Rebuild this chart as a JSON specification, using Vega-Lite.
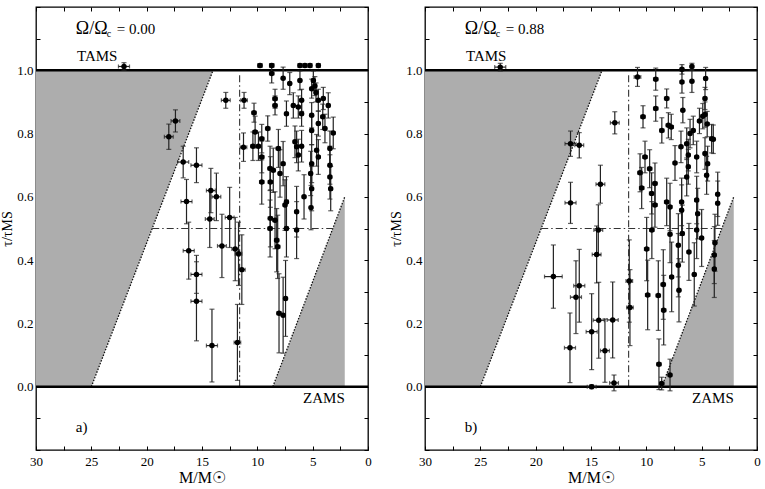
{
  "$schema": "https://vega.github.io/schema/vega-lite/v6.json",
  "autosize": {"type": "pad"},
  "padding": {"left": 0, "top": 0, "right": 3, "bottom": 2},
  "bounds": "flush",
  "spacing": 57,
  "background": "white",
  "config": {"view": {"stroke": "#000", "strokeWidth": 1.3}, "axis": {"grid": false}},
  "datasets": {
    "a": [
      {"m":22.05,"t":1.012,"e":0.012,"me":0.5},
      {"m":18.0,"t":0.79,"e":0.04,"me":0.4},
      {"m":17.4,"t":0.84,"e":0.035,"me":0.4},
      {"m":16.7,"t":0.71,"e":0.05,"me":0.5},
      {"m":15.5,"t":0.70,"e":0.055,"me":0.5},
      {"m":16.4,"t":0.585,"e":0.07,"me":0.5},
      {"m":14.2,"t":0.62,"e":0.07,"me":0.4},
      {"m":13.7,"t":0.60,"e":0.075,"me":0.4},
      {"m":14.3,"t":0.53,"e":0.09,"me":0.4},
      {"m":12.5,"t":0.535,"e":0.095,"me":0.4},
      {"m":16.2,"t":0.43,"e":0.09,"me":0.5},
      {"m":15.5,"t":0.355,"e":0.06,"me":0.5},
      {"m":15.5,"t":0.27,"e":0.125,"me":0.5},
      {"m":13.2,"t":0.445,"e":0.1,"me":0.4},
      {"m":12.0,"t":0.435,"e":0.1,"me":0.3},
      {"m":11.7,"t":0.42,"e":0.1,"me":0.3},
      {"m":11.4,"t":0.37,"e":0.11,"me":0.3},
      {"m":14.1,"t":0.13,"e":0.115,"me":0.5},
      {"m":11.8,"t":0.14,"e":0.12,"me":0.3},
      {"m":12.85,"t":0.905,"e":0.025,"me":0.4},
      {"m":11.2,"t":0.905,"e":0.025,"me":0.3},
      {"m":11.25,"t":0.757,"e":0.045,"me":0.3},
      {"m":10.3,"t":0.866,"e":0.03,"me":0.2},
      {"m":10.4,"t":0.76,"e":0.045,"me":0.2},
      {"m":9.9,"t":0.76,"e":0.045,"me":0.2},
      {"m":9.76,"t":1.015,"e":0.006,"me":0.2},
      {"m":8.7,"t":1.015,"e":0.006,"me":0.2},
      {"m":8.7,"t":0.99,"e":0.03,"me":0.2},
      {"m":7.67,"t":0.975,"e":0.035,"me":0.15},
      {"m":7.07,"t":0.958,"e":0.035,"me":0.15},
      {"m":6.15,"t":0.968,"e":0.03,"me":0.15},
      {"m":6.15,"t":1.015,"e":0.006,"me":0.15},
      {"m":5.7,"t":1.015,"e":0.006,"me":0.15},
      {"m":5.24,"t":1.015,"e":0.006,"me":0.15},
      {"m":4.49,"t":1.015,"e":0.006,"me":0.15},
      {"m":8.4,"t":0.91,"e":0.03,"me":0.2},
      {"m":8.4,"t":0.889,"e":0.03,"me":0.2},
      {"m":9.06,"t":0.816,"e":0.04,"me":0.2},
      {"m":9.6,"t":0.784,"e":0.045,"me":0.2},
      {"m":7.37,"t":0.863,"e":0.04,"me":0.15},
      {"m":6.75,"t":0.889,"e":0.04,"me":0.15},
      {"m":6.3,"t":0.884,"e":0.035,"me":0.15},
      {"m":6.0,"t":0.905,"e":0.035,"me":0.15},
      {"m":6.0,"t":0.863,"e":0.04,"me":0.15},
      {"m":6.6,"t":0.774,"e":0.05,"me":0.15},
      {"m":6.45,"t":0.758,"e":0.05,"me":0.15},
      {"m":6.3,"t":0.732,"e":0.05,"me":0.15},
      {"m":6.0,"t":0.76,"e":0.05,"me":0.15},
      {"m":5.09,"t":0.942,"e":0.03,"me":0.15},
      {"m":4.94,"t":0.968,"e":0.03,"me":0.15},
      {"m":4.8,"t":0.95,"e":0.03,"me":0.15},
      {"m":4.7,"t":0.93,"e":0.03,"me":0.15},
      {"m":4.49,"t":0.905,"e":0.035,"me":0.15},
      {"m":5.09,"t":0.858,"e":0.04,"me":0.15},
      {"m":4.49,"t":0.832,"e":0.04,"me":0.15},
      {"m":4.04,"t":0.911,"e":0.035,"me":0.15},
      {"m":3.59,"t":0.889,"e":0.04,"me":0.15},
      {"m":4.09,"t":0.853,"e":0.04,"me":0.15},
      {"m":3.89,"t":0.816,"e":0.045,"me":0.15},
      {"m":3.14,"t":0.802,"e":0.05,"me":0.15},
      {"m":5.09,"t":0.81,"e":0.045,"me":0.15},
      {"m":4.64,"t":0.747,"e":0.05,"me":0.15},
      {"m":5.09,"t":0.705,"e":0.06,"me":0.15},
      {"m":4.49,"t":0.726,"e":0.055,"me":0.15},
      {"m":3.44,"t":0.753,"e":0.055,"me":0.15},
      {"m":3.44,"t":0.70,"e":0.06,"me":0.15},
      {"m":3.44,"t":0.663,"e":0.07,"me":0.15},
      {"m":3.37,"t":0.626,"e":0.07,"me":0.15},
      {"m":5.18,"t":0.674,"e":0.07,"me":0.15},
      {"m":5.09,"t":0.626,"e":0.07,"me":0.15},
      {"m":5.15,"t":0.566,"e":0.07,"me":0.15},
      {"m":5.78,"t":0.60,"e":0.07,"me":0.15},
      {"m":6.45,"t":0.553,"e":0.08,"me":0.15},
      {"m":7.37,"t":0.584,"e":0.08,"me":0.15},
      {"m":7.5,"t":0.574,"e":0.08,"me":0.15},
      {"m":7.67,"t":0.705,"e":0.07,"me":0.15},
      {"m":7.95,"t":0.674,"e":0.075,"me":0.15},
      {"m":8.85,"t":0.69,"e":0.07,"me":0.2},
      {"m":8.56,"t":0.684,"e":0.07,"me":0.2},
      {"m":8.82,"t":0.647,"e":0.08,"me":0.2},
      {"m":8.82,"t":0.532,"e":0.09,"me":0.2},
      {"m":8.4,"t":0.526,"e":0.09,"me":0.2},
      {"m":8.25,"t":0.463,"e":0.1,"me":0.2},
      {"m":9.6,"t":0.726,"e":0.05,"me":0.2},
      {"m":10.2,"t":0.805,"e":0.05,"me":0.2},
      {"m":8.85,"t":0.50,"e":0.09,"me":0.2},
      {"m":8.16,"t":0.442,"e":0.1,"me":0.2},
      {"m":8.04,"t":0.232,"e":0.125,"me":0.2},
      {"m":7.67,"t":0.226,"e":0.12,"me":0.15},
      {"m":7.45,"t":0.279,"e":0.12,"me":0.15},
      {"m":7.37,"t":0.50,"e":0.09,"me":0.15},
      {"m":6.45,"t":0.495,"e":0.09,"me":0.15},
      {"m":9.6,"t":0.647,"e":0.07,"me":0.2},
      {"m":8.1,"t":0.753,"e":0.06,"me":0.2}
    ],
    "b": [
      {"m":23.2,"t":1.01,"e":0.012,"me":0.5},
      {"m":16.85,"t":0.768,"e":0.04,"me":0.5},
      {"m":16.06,"t":0.763,"e":0.04,"me":0.4},
      {"m":16.85,"t":0.581,"e":0.065,"me":0.5},
      {"m":14.15,"t":0.64,"e":0.06,"me":0.4},
      {"m":12.85,"t":0.834,"e":0.035,"me":0.4},
      {"m":14.34,"t":0.495,"e":0.08,"me":0.4},
      {"m":14.49,"t":0.418,"e":0.09,"me":0.4},
      {"m":18.4,"t":0.348,"e":0.1,"me":0.8},
      {"m":16.36,"t":0.283,"e":0.115,"me":0.5},
      {"m":16.06,"t":0.319,"e":0.115,"me":0.5},
      {"m":16.9,"t":0.123,"e":0.11,"me":0.5},
      {"m":14.94,"t":0.174,"e":0.12,"me":0.5},
      {"m":14.3,"t":0.21,"e":0.12,"me":0.5},
      {"m":13.04,"t":0.211,"e":0.12,"me":0.5},
      {"m":13.74,"t":0.114,"e":0.1,"me":0.4},
      {"m":14.94,"t":0.0,"e":0.006,"me":0.4},
      {"m":12.92,"t":0.012,"e":0.025,"me":0.4},
      {"m":11.54,"t":0.334,"e":0.13,"me":0.3},
      {"m":11.48,"t":0.25,"e":0.12,"me":0.3},
      {"m":10.8,"t":0.979,"e":0.03,"me":0.3},
      {"m":9.15,"t":0.972,"e":0.035,"me":0.2},
      {"m":9.15,"t":0.879,"e":0.04,"me":0.2},
      {"m":10.3,"t":0.853,"e":0.035,"me":0.2},
      {"m":8.16,"t":0.911,"e":0.03,"me":0.2},
      {"m":8.6,"t":0.81,"e":0.04,"me":0.2},
      {"m":8.01,"t":0.826,"e":0.04,"me":0.2},
      {"m":7.75,"t":0.821,"e":0.04,"me":0.2},
      {"m":6.78,"t":1.003,"e":0.015,"me":0.15},
      {"m":5.88,"t":1.012,"e":0.01,"me":0.15},
      {"m":6.78,"t":0.963,"e":0.035,"me":0.15},
      {"m":5.88,"t":0.965,"e":0.035,"me":0.15},
      {"m":4.64,"t":0.974,"e":0.035,"me":0.15},
      {"m":4.7,"t":0.911,"e":0.035,"me":0.15},
      {"m":6.7,"t":0.874,"e":0.04,"me":0.15},
      {"m":5.76,"t":0.81,"e":0.045,"me":0.15},
      {"m":5.2,"t":0.84,"e":0.04,"me":0.15},
      {"m":4.9,"t":0.855,"e":0.04,"me":0.15},
      {"m":4.7,"t":0.86,"e":0.04,"me":0.15},
      {"m":4.5,"t":0.83,"e":0.04,"me":0.15},
      {"m":3.95,"t":0.782,"e":0.045,"me":0.15},
      {"m":4.7,"t":0.737,"e":0.05,"me":0.15},
      {"m":4.46,"t":0.705,"e":0.055,"me":0.15},
      {"m":4.55,"t":0.668,"e":0.06,"me":0.15},
      {"m":6.35,"t":0.768,"e":0.05,"me":0.15},
      {"m":6.87,"t":0.758,"e":0.05,"me":0.15},
      {"m":6.21,"t":0.732,"e":0.05,"me":0.15},
      {"m":6.35,"t":0.663,"e":0.06,"me":0.15},
      {"m":6.21,"t":0.695,"e":0.055,"me":0.15},
      {"m":7.41,"t":0.707,"e":0.055,"me":0.15},
      {"m":10.57,"t":0.676,"e":0.06,"me":0.2},
      {"m":10.12,"t":0.726,"e":0.05,"me":0.2},
      {"m":10.42,"t":0.628,"e":0.065,"me":0.2},
      {"m":9.7,"t":0.689,"e":0.06,"me":0.2},
      {"m":9.22,"t":0.642,"e":0.065,"me":0.2},
      {"m":9.52,"t":0.611,"e":0.065,"me":0.2},
      {"m":9.22,"t":0.574,"e":0.07,"me":0.2},
      {"m":8.16,"t":0.584,"e":0.075,"me":0.2},
      {"m":7.86,"t":0.568,"e":0.075,"me":0.15},
      {"m":6.81,"t":0.584,"e":0.075,"me":0.15},
      {"m":6.81,"t":0.558,"e":0.08,"me":0.15},
      {"m":5.45,"t":0.59,"e":0.075,"me":0.15},
      {"m":5.36,"t":0.547,"e":0.08,"me":0.15},
      {"m":3.55,"t":0.608,"e":0.07,"me":0.15},
      {"m":3.55,"t":0.58,"e":0.07,"me":0.15},
      {"m":9.5,"t":0.495,"e":0.09,"me":0.2},
      {"m":7.86,"t":0.482,"e":0.09,"me":0.15},
      {"m":6.75,"t":0.484,"e":0.09,"me":0.15},
      {"m":5.45,"t":0.495,"e":0.09,"me":0.15},
      {"m":5.0,"t":0.47,"e":0.09,"me":0.15},
      {"m":3.8,"t":0.455,"e":0.09,"me":0.15},
      {"m":7.11,"t":0.447,"e":0.1,"me":0.15},
      {"m":3.86,"t":0.416,"e":0.09,"me":0.15},
      {"m":3.86,"t":0.372,"e":0.09,"me":0.15},
      {"m":9.97,"t":0.435,"e":0.1,"me":0.2},
      {"m":7.71,"t":0.347,"e":0.11,"me":0.15},
      {"m":7.11,"t":0.384,"e":0.1,"me":0.15},
      {"m":5.67,"t":0.355,"e":0.1,"me":0.15},
      {"m":9.88,"t":0.29,"e":0.11,"me":0.2},
      {"m":8.92,"t":0.288,"e":0.11,"me":0.2},
      {"m":8.47,"t":0.323,"e":0.11,"me":0.2},
      {"m":8.43,"t":0.242,"e":0.11,"me":0.2},
      {"m":8.86,"t":0.071,"e":0.08,"me":0.2},
      {"m":8.61,"t":0.01,"e":0.02,"me":0.2},
      {"m":7.86,"t":0.037,"e":0.05,"me":0.15},
      {"m":7.05,"t":0.305,"e":0.1,"me":0.15},
      {"m":6.15,"t":0.426,"e":0.09,"me":0.15},
      {"m":6.05,"t":0.80,"e":0.045,"me":0.15},
      {"m":4.1,"t":0.784,"e":0.045,"me":0.15},
      {"m":5.45,"t":0.726,"e":0.05,"me":0.15}
    ],
    "leftzone": [{"x":30,"y":0,"y2":1},{"x":25,"y":0,"y2":1},{"x":14,"y":1,"y2":1}],
    "rightzone": [{"x":8.6,"y":0,"y2":0},{"x":2.1,"y":0,"y2":0.6}],
    "dotted": [{"x":25,"y":0,"g":1},{"x":14,"y":1,"g":1},{"x":8.6,"y":0,"g":2},{"x":2.1,"y":0.6,"g":2}],
    "dashdot": [{"x":11.6,"y":0,"g":1},{"x":11.6,"y":0.99,"g":1},{"x":19.5,"y":0.5,"g":2},{"x":3.2,"y":0.5,"g":2}],
    "limits": [{"y":0},{"y":1}],
    "one": [{"k":1}]
  },
  "hconcat": [
    {
      "width": 332, "height": 443,
      "layer": [
        {"data": {"name": "leftzone"}, "mark": {"type": "area", "color": "#adadad", "opacity": 1},
         "encoding": {
           "x": {"field": "x", "type": "quantitative", "scale": {"domain": [0, 30], "reverse": true, "nice": false},
                 "axis": {"orient": "bottom", "values": [0,2.5,5,7.5,10,12.5,15,17.5,20,22.5,25,27.5,30], "labelExpr": "datum.value % 5 === 0 ? format(datum.value, 'd') : ''", "tickSize": -4, "tickColor": "#000", "labelPadding": 9, "labelFont": "Liberation Serif", "labelFontSize": 13, "labelColor": "#000", "domain": false, "labelOverlap": false, "labelFlush": false, "title": "M/M☉", "titleFont": "Liberation Serif", "titleFontSize": 16, "titleFontWeight": "normal", "titleColor": "#000", "titlePadding": 1}},
           "y": {"field": "y", "type": "quantitative", "scale": {"domain": [-0.2, 1.2], "nice": false, "zero": false},
                 "axis": {"orient": "left", "values": [-0.2,-0.1,0,0.1,0.2,0.3,0.4,0.5,0.6,0.7,0.8,0.9,1,1.1,1.2], "labelExpr": "datum.value >= -0.01 && datum.value <= 1.01 && round(datum.value*10) % 2 === 0 ? format(datum.value, '.1f') : ''", "tickSize": -4, "tickColor": "#000", "labelPadding": 7, "labelFont": "Liberation Serif", "labelFontSize": 13, "labelColor": "#000", "domain": false, "labelOverlap": false, "labelFlush": false, "title": "τ/τMS", "titleFont": "Liberation Serif", "titleFontSize": 14, "titleFontWeight": "normal", "titleColor": "#000", "titlePadding": 2}},
           "y2": {"field": "y2"}
         }},
        {"data": {"name": "rightzone"}, "mark": {"type": "area", "color": "#adadad"},
         "encoding": {"x": {"field": "x", "type": "quantitative", "axis": null}, "y": {"field": "y", "type": "quantitative", "axis": null}, "y2": {"field": "y2"}}},
        {"data": {"name": "dotted"}, "mark": {"type": "line", "color": "#111", "strokeWidth": 1.3, "strokeDash": [1.5, 1.5]},
         "encoding": {"x": {"field": "x", "type": "quantitative", "axis": null}, "y": {"field": "y", "type": "quantitative", "axis": null}, "detail": {"field": "g"}}},
        {"data": {"name": "dashdot"}, "mark": {"type": "line", "color": "#333", "strokeWidth": 1.1, "strokeDash": [7, 3, 1.5, 3]},
         "encoding": {"x": {"field": "x", "type": "quantitative", "axis": null}, "y": {"field": "y", "type": "quantitative", "axis": null}, "detail": {"field": "g"}}},
        {"data": {"name": "limits"}, "mark": {"type": "rule", "color": "#000", "strokeWidth": 2.5},
         "encoding": {"y": {"field": "y", "type": "quantitative", "axis": null}}},
        {"data": {"name": "a"}, "mark": {"type": "errorbar", "ticks": {"size": 5}, "color": "#222", "thickness": 1.2},
         "encoding": {"x": {"field": "m", "type": "quantitative", "axis": null}, "y": {"field": "t", "type": "quantitative", "axis": null}, "yError": {"field": "e"}}},
        {"data": {"name": "a"}, "mark": {"type": "errorbar", "ticks": {"size": 4}, "color": "#222", "thickness": 1.2},
         "encoding": {"y": {"field": "t", "type": "quantitative", "axis": null}, "x": {"field": "m", "type": "quantitative", "axis": null}, "xError": {"field": "me"}}},
        {"data": {"name": "a"}, "mark": {"type": "circle", "color": "#000", "size": 30, "opacity": 1},
         "encoding": {"x": {"field": "m", "type": "quantitative", "axis": null}, "y": {"field": "t", "type": "quantitative", "axis": null}}},
        {"data": {"name": "limits"}, "mark": {"type": "point", "opacity": 0},
         "encoding": {
           "x": {"datum": 0, "type": "quantitative", "axis": {"orient": "top", "values": [0,2.5,5,7.5,10,12.5,15,17.5,20,22.5,25,27.5,30], "labels": false, "tickSize": -4, "tickColor": "#000", "domain": false, "title": null}},
           "y": {"field": "y", "type": "quantitative", "axis": {"orient": "right", "values": [-0.2,-0.1,0,0.1,0.2,0.3,0.4,0.5,0.6,0.7,0.8,0.9,1,1.1,1.2], "labels": false, "tickSize": -4, "tickColor": "#000", "domain": false, "title": null}}
         }},
        {"data": {"name": "one"}, "mark": {"type": "text", "text": "Ω/Ω", "align": "left", "baseline": "middle", "font": "Liberation Serif", "fontSize": 18, "color": "#000"},
         "encoding": {"x": {"datum": 26.4, "type": "quantitative", "axis": null}, "y": {"datum": 1.13, "type": "quantitative", "axis": null}}},
        {"data": {"name": "one"}, "mark": {"type": "text", "text": "c", "align": "left", "baseline": "middle", "font": "Liberation Serif", "fontSize": 10, "color": "#000", "dx": 31, "dy": 5},
         "encoding": {"x": {"datum": 26.4, "type": "quantitative", "axis": null}, "y": {"datum": 1.13, "type": "quantitative", "axis": null}}},
        {"data": {"name": "one"}, "mark": {"type": "text", "text": "= 0.00", "align": "left", "baseline": "middle", "font": "Liberation Serif", "fontSize": 15, "color": "#000", "dx": 41},
         "encoding": {"x": {"datum": 26.4, "type": "quantitative", "axis": null}, "y": {"datum": 1.13, "type": "quantitative", "axis": null}}},
        {"data": {"name": "one"}, "mark": {"type": "text", "text": "TAMS", "align": "left", "baseline": "middle", "font": "Liberation Serif", "fontSize": 15, "color": "#000"},
         "encoding": {"x": {"datum": 26.3, "type": "quantitative", "axis": null}, "y": {"datum": 1.045, "type": "quantitative", "axis": null}}},
        {"data": {"name": "one"}, "mark": {"type": "text", "text": "ZAMS", "align": "right", "baseline": "middle", "font": "Liberation Serif", "fontSize": 15, "color": "#000"},
         "encoding": {"x": {"datum": 2.1, "type": "quantitative", "axis": null}, "y": {"datum": -0.036, "type": "quantitative", "axis": null}}},
        {"data": {"name": "one"}, "mark": {"type": "text", "text": "a)", "align": "left", "baseline": "middle", "font": "Liberation Serif", "fontSize": 15, "color": "#000"},
         "encoding": {"x": {"datum": 26.4, "type": "quantitative", "axis": null}, "y": {"datum": -0.127, "type": "quantitative", "axis": null}}}
      ]
    },
    {
      "width": 332, "height": 443,
      "layer": [
        {"data": {"name": "leftzone"}, "mark": {"type": "area", "color": "#adadad", "opacity": 1},
         "encoding": {
           "x": {"field": "x", "type": "quantitative", "scale": {"domain": [0, 30], "reverse": true, "nice": false},
                 "axis": {"orient": "bottom", "values": [0,2.5,5,7.5,10,12.5,15,17.5,20,22.5,25,27.5,30], "labelExpr": "datum.value % 5 === 0 ? format(datum.value, 'd') : ''", "tickSize": -4, "tickColor": "#000", "labelPadding": 9, "labelFont": "Liberation Serif", "labelFontSize": 13, "labelColor": "#000", "domain": false, "labelOverlap": false, "labelFlush": false, "title": "M/M☉", "titleFont": "Liberation Serif", "titleFontSize": 16, "titleFontWeight": "normal", "titleColor": "#000", "titlePadding": 1}},
           "y": {"field": "y", "type": "quantitative", "scale": {"domain": [-0.2, 1.2], "nice": false, "zero": false},
                 "axis": {"orient": "left", "values": [-0.2,-0.1,0,0.1,0.2,0.3,0.4,0.5,0.6,0.7,0.8,0.9,1,1.1,1.2], "labelExpr": "datum.value >= -0.01 && datum.value <= 1.01 && round(datum.value*10) % 2 === 0 ? format(datum.value, '.1f') : ''", "tickSize": -4, "tickColor": "#000", "labelPadding": 7, "labelFont": "Liberation Serif", "labelFontSize": 13, "labelColor": "#000", "domain": false, "labelOverlap": false, "labelFlush": false, "title": "τ/τMS", "titleFont": "Liberation Serif", "titleFontSize": 14, "titleFontWeight": "normal", "titleColor": "#000", "titlePadding": 2}},
           "y2": {"field": "y2"}
         }},
        {"data": {"name": "rightzone"}, "mark": {"type": "area", "color": "#adadad"},
         "encoding": {"x": {"field": "x", "type": "quantitative", "axis": null}, "y": {"field": "y", "type": "quantitative", "axis": null}, "y2": {"field": "y2"}}},
        {"data": {"name": "dotted"}, "mark": {"type": "line", "color": "#111", "strokeWidth": 1.3, "strokeDash": [1.5, 1.5]},
         "encoding": {"x": {"field": "x", "type": "quantitative", "axis": null}, "y": {"field": "y", "type": "quantitative", "axis": null}, "detail": {"field": "g"}}},
        {"data": {"name": "dashdot"}, "mark": {"type": "line", "color": "#333", "strokeWidth": 1.1, "strokeDash": [7, 3, 1.5, 3]},
         "encoding": {"x": {"field": "x", "type": "quantitative", "axis": null}, "y": {"field": "y", "type": "quantitative", "axis": null}, "detail": {"field": "g"}}},
        {"data": {"name": "limits"}, "mark": {"type": "rule", "color": "#000", "strokeWidth": 2.5},
         "encoding": {"y": {"field": "y", "type": "quantitative", "axis": null}}},
        {"data": {"name": "b"}, "mark": {"type": "errorbar", "ticks": {"size": 5}, "color": "#222", "thickness": 1.2},
         "encoding": {"x": {"field": "m", "type": "quantitative", "axis": null}, "y": {"field": "t", "type": "quantitative", "axis": null}, "yError": {"field": "e"}}},
        {"data": {"name": "b"}, "mark": {"type": "errorbar", "ticks": {"size": 4}, "color": "#222", "thickness": 1.2},
         "encoding": {"y": {"field": "t", "type": "quantitative", "axis": null}, "x": {"field": "m", "type": "quantitative", "axis": null}, "xError": {"field": "me"}}},
        {"data": {"name": "b"}, "mark": {"type": "circle", "color": "#000", "size": 30, "opacity": 1},
         "encoding": {"x": {"field": "m", "type": "quantitative", "axis": null}, "y": {"field": "t", "type": "quantitative", "axis": null}}},
        {"data": {"name": "limits"}, "mark": {"type": "point", "opacity": 0},
         "encoding": {
           "x": {"datum": 0, "type": "quantitative", "axis": {"orient": "top", "values": [0,2.5,5,7.5,10,12.5,15,17.5,20,22.5,25,27.5,30], "labels": false, "tickSize": -4, "tickColor": "#000", "domain": false, "title": null}},
           "y": {"field": "y", "type": "quantitative", "axis": {"orient": "right", "values": [-0.2,-0.1,0,0.1,0.2,0.3,0.4,0.5,0.6,0.7,0.8,0.9,1,1.1,1.2], "labels": false, "tickSize": -4, "tickColor": "#000", "domain": false, "title": null}}
         }},
        {"data": {"name": "one"}, "mark": {"type": "text", "text": "Ω/Ω", "align": "left", "baseline": "middle", "font": "Liberation Serif", "fontSize": 18, "color": "#000"},
         "encoding": {"x": {"datum": 26.4, "type": "quantitative", "axis": null}, "y": {"datum": 1.13, "type": "quantitative", "axis": null}}},
        {"data": {"name": "one"}, "mark": {"type": "text", "text": "c", "align": "left", "baseline": "middle", "font": "Liberation Serif", "fontSize": 10, "color": "#000", "dx": 31, "dy": 5},
         "encoding": {"x": {"datum": 26.4, "type": "quantitative", "axis": null}, "y": {"datum": 1.13, "type": "quantitative", "axis": null}}},
        {"data": {"name": "one"}, "mark": {"type": "text", "text": "= 0.88", "align": "left", "baseline": "middle", "font": "Liberation Serif", "fontSize": 15, "color": "#000", "dx": 41},
         "encoding": {"x": {"datum": 26.4, "type": "quantitative", "axis": null}, "y": {"datum": 1.13, "type": "quantitative", "axis": null}}},
        {"data": {"name": "one"}, "mark": {"type": "text", "text": "TAMS", "align": "left", "baseline": "middle", "font": "Liberation Serif", "fontSize": 15, "color": "#000"},
         "encoding": {"x": {"datum": 26.3, "type": "quantitative", "axis": null}, "y": {"datum": 1.045, "type": "quantitative", "axis": null}}},
        {"data": {"name": "one"}, "mark": {"type": "text", "text": "ZAMS", "align": "right", "baseline": "middle", "font": "Liberation Serif", "fontSize": 15, "color": "#000"},
         "encoding": {"x": {"datum": 2.1, "type": "quantitative", "axis": null}, "y": {"datum": -0.036, "type": "quantitative", "axis": null}}},
        {"data": {"name": "one"}, "mark": {"type": "text", "text": "b)", "align": "left", "baseline": "middle", "font": "Liberation Serif", "fontSize": 15, "color": "#000"},
         "encoding": {"x": {"datum": 26.4, "type": "quantitative", "axis": null}, "y": {"datum": -0.127, "type": "quantitative", "axis": null}}}
      ]
    }
  ]
}
